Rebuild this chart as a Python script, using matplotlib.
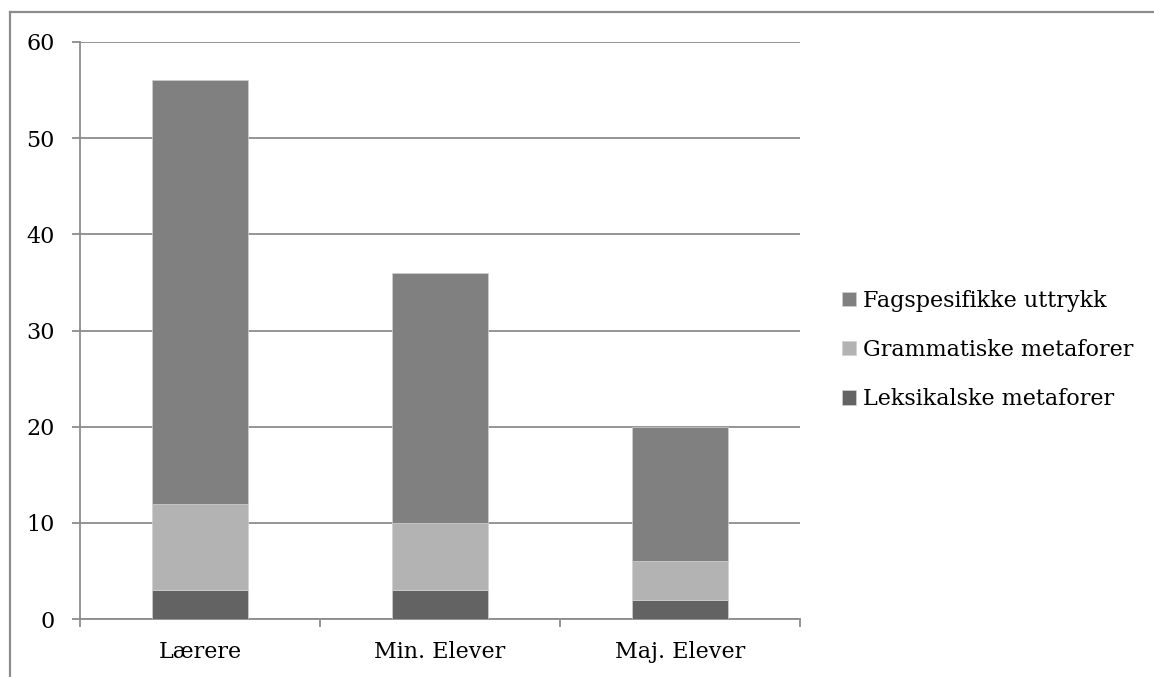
import matplotlib
matplotlib.use("Agg")
import matplotlib.pyplot as plt
from matplotlib.lines import Line2D
import numpy as np

categories = ["Lærere", "Min. Elever", "Maj. Elever"]
leksikalske = [3, 3, 2]
grammatiske = [9, 7, 4]
fagspesifikke = [44, 26, 14]
series_names = ["Leksikalske metaforer", "Grammatiske metaforer", "Fagspesifikke uttrykk"]
colors = ["#636363", "#b3b3b3", "#808080"]
yticks = [0, 10, 20, 30, 40, 50, 60]

plt.rcParams["font.family"] = ["DejaVu Serif"]
W, H = 1154, 677
fig = plt.figure(figsize=(W / 100, H / 100), dpi=100)

grey = "#8c8c8c"
# outer frame (top and left edges)
fig.add_artist(Line2D([10 / W, 1.0], [1 - 12 / H, 1 - 12 / H], transform=fig.transFigure,
                      color=grey, lw=1.6))
fig.add_artist(Line2D([10 / W, 10 / W], [0.0, 1 - 12 / H], transform=fig.transFigure,
                      color=grey, lw=1.6))

ax = fig.add_axes([80 / W, 1 - 619 / H, 720 / W, 577 / H])
x = np.arange(len(categories))
width = 0.4
bottom = np.zeros(len(categories))
handles = []
for vals, name, c in zip([leksikalske, grammatiske, fagspesifikke], series_names, colors):
    b = ax.bar(x, vals, width, bottom=bottom, color=c, label=name, zorder=3,
               edgecolor="#d0d0d0", linewidth=0.5)
    handles.append(b)
    bottom += np.array(vals)

ax.set_xlim(-0.5, 2.5)
ax.set_ylim(0, 60)
ax.set_yticks(yticks)
ax.yaxis.grid(True, color=grey, lw=1.3, zorder=0)
ax.set_axisbelow(True)

for s in ["top", "right"]:
    ax.spines[s].set_visible(False)
for s in ["left", "bottom"]:
    ax.spines[s].set_color(grey)
    ax.spines[s].set_linewidth(1.3)
    ax.spines[s].set_zorder(1)

ax.set_xticks(x)
ax.set_xticklabels(categories, fontsize=16)
ax.tick_params(axis="x", which="major", length=0, pad=16)
ax.set_xticks([-0.5, 0.5, 1.5, 2.5], minor=True)
ax.tick_params(axis="x", which="minor", length=6, width=1.3, color=grey, direction="out")
ax.tick_params(axis="y", length=6, width=1.3, color=grey, pad=12, labelsize=16)

leg = ax.legend(handles[::-1], series_names[::-1], loc="center left",
                bbox_to_anchor=(833 / W, 1 - 350 / H), bbox_transform=fig.transFigure,
                frameon=False, fontsize=16, handlelength=0.63, handleheight=0.63,
                handletextpad=0.32, labelspacing=1.22, borderaxespad=0)

fig.savefig("out.png", dpi=100)
